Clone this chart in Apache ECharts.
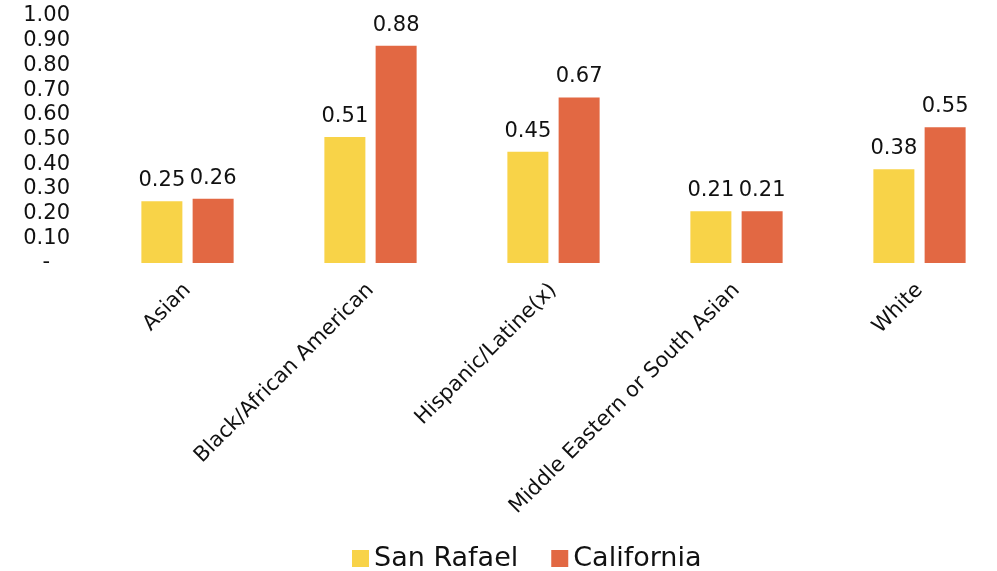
<!DOCTYPE html>
<html>
<head>
<meta charset="utf-8">
<script src="https://cdn.jsdelivr.net/npm/echarts@6/dist/echarts.min.js"></script>
<style>
  html, body { margin: 0; padding: 0; background: #fff; }
  #chart { width: 997px; height: 571px; }
</style>
</head>
<body>
<div id="chart"></div>
<script>
var categories = ['Asian', 'Black/African American', 'Hispanic/Latine(x)', 'Middle Eastern or South Asian', 'White'];
var sanRafael = [0.25, 0.51, 0.45, 0.21, 0.38];
var california = [0.26, 0.88, 0.67, 0.21, 0.55];

var chart = echarts.init(document.getElementById('chart'));
var font = '"DejaVu Sans", "Liberation Sans", sans-serif';

function barLabel() {
  return {
    show: true,
    position: 'top',
    distance: 10,
    fontSize: 21,
    fontFamily: font,
    color: '#111',
    formatter: function (p) { return p.value.toFixed(2); }
  };
}

var option = {
  color: ['#F8D348', '#E26843'],
  textStyle: { fontFamily: font },
  grid: {
    left: 96,
    top: 16,
    width: 915,
    height: 247,
    outerBoundsMode: 'none'
  },
  legend: {
    top: 540,
    left: 347,
    itemWidth: 17,
    itemHeight: 17,
    itemGap: 33,
    icon: 'rect',
    textStyle: { fontSize: 27, color: '#111', fontFamily: font },
    data: ['San Rafael', 'California']
  },
  xAxis: {
    type: 'category',
    data: categories,
    axisLine: { show: false },
    axisTick: { show: false },
    axisLabel: {
      interval: 0,
      rotate: 45,
      fontSize: 21,
      fontFamily: font,
      color: '#111',
      margin: 24
    }
  },
  yAxis: {
    type: 'value',
    min: 0,
    max: 1,
    interval: 0.1,
    splitLine: { show: false },
    axisLine: { show: false },
    axisTick: { show: false },
    axisLabel: {
      fontSize: 21,
      fontFamily: font,
      color: '#111',
      margin: 26,
      formatter: function (v) {
        return v === 0 ? '-   ' : v.toFixed(2);
      }
    }
  },
  series: [
    {
      name: 'San Rafael',
      type: 'bar',
      data: sanRafael,
      barWidth: 41,
      barGap: '25%',
      label: barLabel()
    },
    {
      name: 'California',
      type: 'bar',
      data: california,
      barWidth: 41,
      label: barLabel()
    }
  ]
};
chart.setOption(option);
</script>
</body>
</html>
